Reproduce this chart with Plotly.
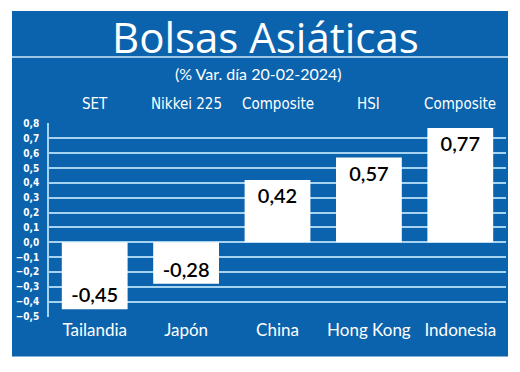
import plotly.graph_objects as go

countries = ["Tailandia", "Japón", "China", "Hong Kong", "Indonesia"]
indices = ["SET", "Nikkei 225", "Composite", "HSI", "Composite"]
values = [-0.45, -0.28, 0.42, 0.57, 0.77]
value_labels = ["-0,45", "-0,28", "0,42", "0,57", "0,77"]
y_ticks = [round(-0.5 + 0.1 * i, 1) for i in range(14)]

BLUE = "#0b63ad"
GRID = "#a6d4f0"

W, H = 520, 372
L, R, T, B = 49, 14, 123, 55
pw, ph = W - L - R, H - T - B

def px(x):
    return (x - L) / pw

def py(y):
    return (H - B - y) / ph

fig = go.Figure()
fig.add_trace(go.Bar(
    x=countries, y=values, marker=dict(color="white", line=dict(width=0)),
    text=value_labels, textposition="inside", insidetextanchor="end",
    textfont=dict(color="black", size=20, family="Lato", weight=600),
    constraintext="none", cliponaxis=False, hoverinfo="skip",
))

shapes = [
    dict(type="rect", xref="paper", yref="paper", x0=px(12), x1=px(508), y0=py(356.5), y1=py(11),
         fillcolor=BLUE, line=dict(width=0), layer="below"),
    dict(type="line", xref="paper", yref="paper", x0=px(12), x1=px(508), y0=py(57), y1=py(57),
         line=dict(color="#cfe6f7", width=1.5)),
]

annotations = [
    dict(text="Bolsas Asiáticas", x=px(265), y=py(36), xref="paper", yref="paper",
         showarrow=False, font=dict(family="Open Sans", size=42, color="white", weight=500),
         xanchor="center", yanchor="middle"),
    dict(text="(% Var. día 20-02-2024)", x=px(258), y=py(73), xref="paper", yref="paper",
         showarrow=False, font=dict(family="Lato", size=16, color="white"), xanchor="center", yanchor="middle"),
]
for c, idx in zip(countries, indices):
    annotations.append(dict(text=idx, x=c, y=py(104), xref="x", yref="paper", showarrow=False,
                            font=dict(family="DejaVu Sans Condensed", size=15, color="white"),
                            xanchor="center", yanchor="middle"))

fig.update_layout(
    width=W, height=H, margin=dict(l=L, r=R, t=T, b=B),
    paper_bgcolor="white", plot_bgcolor=BLUE,
    separators=",.", bargap=0.28, showlegend=False,
    shapes=shapes, annotations=annotations,
    xaxis=dict(showgrid=False, zeroline=False, showline=False, ticks="",
               tickfont=dict(family="Lato", size=17, color="white"), ticklabelstandoff=1),
    yaxis=dict(range=[-0.503, 0.803], tickvals=y_ticks, tickformat=".1f",
               showgrid=True, gridcolor=GRID, gridwidth=1.6, zeroline=False,
               showline=True, linecolor=GRID, linewidth=1.6, ticks="",
               tickfont=dict(family="DejaVu Sans Condensed", size=10, color="white", weight="bold"),
               ticklabelstandoff=6),
)

fig.write_html("out.html")
